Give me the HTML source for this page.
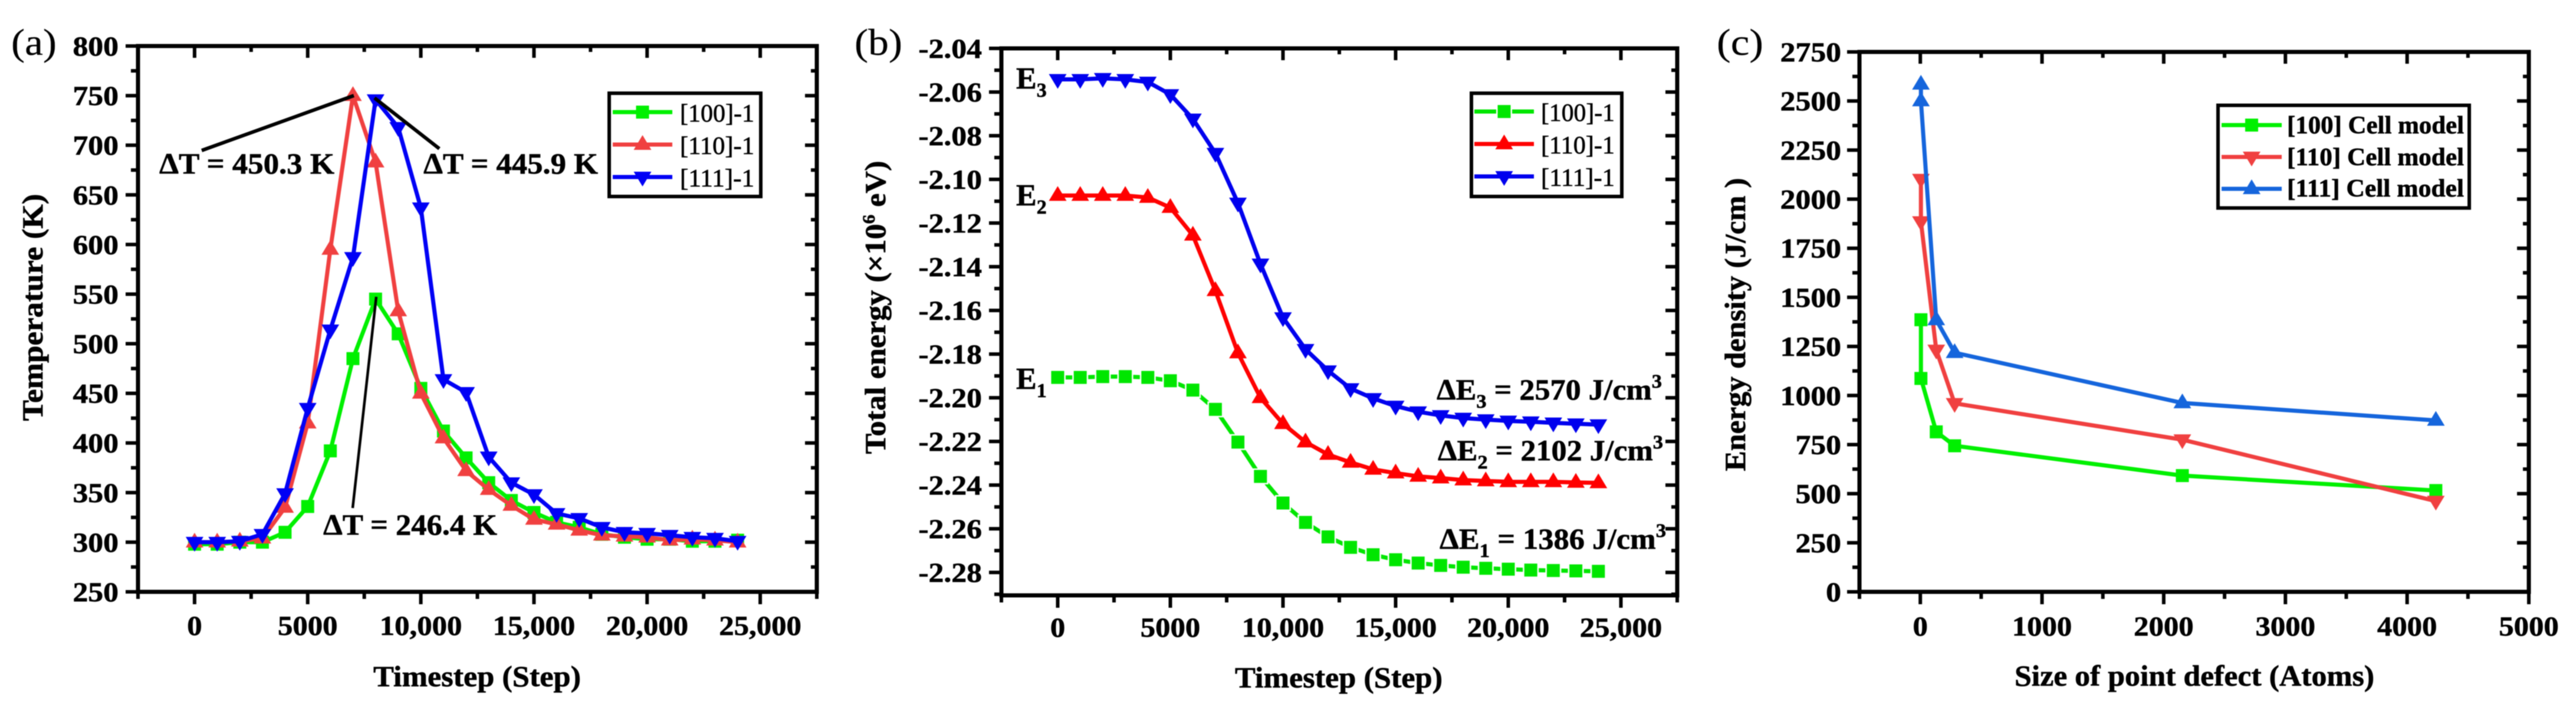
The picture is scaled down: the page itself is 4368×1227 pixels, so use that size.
<!DOCTYPE html>
<html lang="en">
<head>
<meta charset="utf-8">
<title>Temperature, total energy and energy density charts</title>
<style>
html,body{margin:0;padding:0;background:#fff;width:4368px;height:1227px;overflow:hidden}
svg{display:block;font-family:"Liberation Serif",serif;font-weight:700;fill:#000;filter:blur(.7px)}
text{stroke:#000;stroke-width:.7px}
.t{font-size:50px}
.l{font-size:42px;font-weight:400}
.p{font-size:64px;font-weight:400;stroke-width:.3px}
</style>
</head>
<body>
<svg id="fig" xmlns="http://www.w3.org/2000/svg" width="4368" height="1227" viewBox="0 0 4368 1227">
  <rect x="0" y="0" width="4368" height="1227" fill="#fff"/>

  <g id="panel-a">
    <text class="p" x="19" y="93" textLength="77" lengthAdjust="spacingAndGlyphs">(a)</text>
    <text class="t" x="809" y="1163" text-anchor="middle" textLength="352" lengthAdjust="spacingAndGlyphs">Timestep (Step)</text>
    <text class="t" transform="translate(72,521) rotate(-90)" text-anchor="middle" textLength="385" lengthAdjust="spacingAndGlyphs">Temperature (K)</text>
  </g>

  <g id="panel-b">
    <text class="p" x="1449" y="93" textLength="81" lengthAdjust="spacingAndGlyphs">(b)</text>
    <text class="t" x="2270" y="1165" text-anchor="middle" textLength="352" lengthAdjust="spacingAndGlyphs">Timestep (Step)</text>
    <text class="t" transform="translate(1501,521) rotate(-90)" text-anchor="middle" textLength="497" lengthAdjust="spacingAndGlyphs">Total energy (×10<tspan font-size="30" dy="-18">6</tspan><tspan dy="18"> eV)</tspan></text>
  </g>

  <g id="panel-c">
    <text class="p" x="2911" y="93" textLength="79" lengthAdjust="spacingAndGlyphs">(c)</text>
    <text class="t" x="3721" y="1162" text-anchor="middle" textLength="610" lengthAdjust="spacingAndGlyphs">Size of point defect (Atoms)</text>
    <text class="t" transform="translate(2959,550) rotate(-90)" text-anchor="middle" textLength="497" lengthAdjust="spacingAndGlyphs">Energy density (J/cm )</text>
  </g>

  <g id="overlay">
    <line x1="342" y1="255" x2="600" y2="162" stroke="#000" stroke-width="6"/>
    <line x1="635" y1="166" x2="745" y2="252" stroke="#000" stroke-width="6"/>
    <line x1="638" y1="503" x2="598" y2="861" stroke="#000" stroke-width="4.5"/>
    <text class="t" x="270" y="294" textLength="297" lengthAdjust="spacingAndGlyphs">ΔT = 450.3 K</text>
    <text class="t" x="718" y="294" textLength="296" lengthAdjust="spacingAndGlyphs">ΔT = 445.9 K</text>
    <text class="t" x="548" y="906" textLength="295" lengthAdjust="spacingAndGlyphs">ΔT = 246.4 K</text>

    <text class="t" x="1723" y="150" font-size="52" style="font-size:52px">E<tspan font-size="34" style="font-size:34px" dy="14">3</tspan></text>
    <text class="t" x="1723" y="348" style="font-size:52px">E<tspan style="font-size:34px" dy="14">2</tspan></text>
    <text class="t" x="1723" y="659" style="font-size:52px">E<tspan style="font-size:34px" dy="14">1</tspan></text>
    <text class="t" x="2436" y="677" textLength="382" lengthAdjust="spacingAndGlyphs">ΔE<tspan font-size="33" dy="14">3</tspan><tspan dy="-14"> = 2570 J/cm</tspan><tspan font-size="33" dy="-20">3</tspan></text>
    <text class="t" x="2438" y="780" textLength="382" lengthAdjust="spacingAndGlyphs">ΔE<tspan font-size="33" dy="14">2</tspan><tspan dy="-14"> = 2102 J/cm</tspan><tspan font-size="33" dy="-20">3</tspan></text>
    <text class="t" x="2441" y="930" textLength="384" lengthAdjust="spacingAndGlyphs">ΔE<tspan font-size="33" dy="14">1</tspan><tspan dy="-14"> = 1386 J/cm</tspan><tspan font-size="33" dy="-20">3</tspan></text>

    <rect x="1033" y="158" width="257" height="175" fill="#fff" stroke="#000" stroke-width="6"/>
    <text class="l" x="1153" y="206" textLength="126" lengthAdjust="spacingAndGlyphs">[100]-1</text>
    <text class="l" x="1153" y="261" textLength="126" lengthAdjust="spacingAndGlyphs">[110]-1</text>
    <text class="l" x="1153" y="316" textLength="126" lengthAdjust="spacingAndGlyphs">[111]-1</text>

    <rect x="2495" y="158" width="255" height="175" fill="#fff" stroke="#000" stroke-width="6"/>
    <text class="l" x="2613" y="205" textLength="125" lengthAdjust="spacingAndGlyphs">[100]-1</text>
    <text class="l" x="2613" y="260" textLength="125" lengthAdjust="spacingAndGlyphs">[110]-1</text>
    <text class="l" x="2613" y="315" textLength="125" lengthAdjust="spacingAndGlyphs">[111]-1</text>

    <rect x="3761" y="178.5" width="426" height="174" fill="#fff" stroke="#000" stroke-width="6"/>
    <text x="3878" y="226" font-size="42" textLength="300" lengthAdjust="spacingAndGlyphs">[100] Cell model</text>
    <text x="3878" y="280" font-size="42" textLength="300" lengthAdjust="spacingAndGlyphs">[110] Cell model</text>
    <text x="3878" y="333" font-size="42" textLength="300" lengthAdjust="spacingAndGlyphs">[111] Cell model</text>
  </g>
</svg>

<script>
// ---- Panel (a) data ----
const timesteps = [0,1000,2000,3000,4000,5000,6000,7000,8000,9000,10000,11000,12000,13000,14000,15000,16000,17000,18000,19000,20000,21000,22000,23000,24000];
const temperature100 = [298,298,300,300,310,336,392,485,545,510,455,412,385,360,342,330,320,315,308,305,303,303,301,301,302];
const temperature110 = [300,300,301,304,335,420,595,750,683,533,450,405,372,353,337,323,318,312,307,306,305,302,303,302,300];
const temperature111 = [300,300,301,308,349,435,514,587,746,718,637,464,451,386,360,348,329,324,315,310,309,307,305,304,301];
const temperatureTicks = [250,300,350,400,450,500,550,600,650,700,750,800];
const temperatureTickLabels = ['250','300','350','400','450','500','550','600','650','700','750','800'];
const timeTicks = [0,5000,10000,15000,20000,25000];
const timeTickLabels = ['0','5000','10,000','15,000','20,000','25,000'];

// ---- Panel (b) data ----
const energy100 = [-2.1907,-2.1907,-2.1903,-2.1903,-2.1907,-2.1922,-2.1965,-2.2053,-2.2203,-2.236,-2.2482,-2.2571,-2.2637,-2.2685,-2.2719,-2.2742,-2.2757,-2.2768,-2.2776,-2.2781,-2.2785,-2.2789,-2.2791,-2.2793,-2.2795];
const energy110 = [-2.1074,-2.1074,-2.1074,-2.1074,-2.1083,-2.1129,-2.1256,-2.151,-2.1795,-2.2,-2.2119,-2.2203,-2.226,-2.2296,-2.2328,-2.2345,-2.236,-2.2368,-2.2377,-2.2381,-2.2385,-2.2385,-2.2385,-2.2388,-2.239];
const energy111 = [-2.0542,-2.0542,-2.0537,-2.0542,-2.0554,-2.0611,-2.0723,-2.088,-2.1108,-2.1387,-2.1633,-2.1778,-2.1876,-2.1958,-2.2003,-2.2038,-2.2064,-2.2081,-2.2093,-2.21,-2.2106,-2.211,-2.2115,-2.2119,-2.2123];
const energyTicks = [-2.28,-2.26,-2.24,-2.22,-2.20,-2.18,-2.16,-2.14,-2.12,-2.10,-2.08,-2.06,-2.04];
const energyTickLabels = ['-2.28','-2.26','-2.24','-2.22','-2.20','-2.18','-2.16','-2.14','-2.12','-2.10','-2.08','-2.06','-2.04'];

// ---- Panel (c) data ----
const defectSizes = [5,5,131,282,2153,4236];
const density100 = [1386,1087,815,744,592,516];
const density110 = [2102,1886,1232,960,775,462];
const density111 = [2585,2500,1385,1218,962,873];
const densityTicks = [0,250,500,750,1000,1250,1500,1750,2000,2250,2500,2750];
const densityTickLabels = ['0','250','500','750','1000','1250','1500','1750','2000','2250','2500','2750'];
const defectTicks = [0,1000,2000,3000,4000,5000];
const defectTickLabels = ['0','1000','2000','3000','4000','5000'];

const NS = 'http://www.w3.org/2000/svg';
function make(parent, tag, attrs) {
  const node = document.createElementNS(NS, tag);
  for (const k in attrs) node.setAttribute(k, attrs[k]);
  parent.appendChild(node);
  return node;
}
function scale(d0, d1, r0, r1) {
  return function (v) { return r0 + (v - d0) * (r1 - r0) / (d1 - d0); };
}
function markerPoints(shape, x, y) {
  if (shape === 'square') return [[x-11,y-11],[x+11,y-11],[x+11,y+11],[x-11,y+11]];
  if (shape === 'up') return [[x,y-16],[x+15,y+9],[x-15,y+9]];
  return [[x,y+16],[x+15,y-9],[x-15,y-9]];
}
function drawMarker(parent, shape, x, y, color, halo, name) {
  const attrs = {points: markerPoints(shape, x, y).map(function (p) { return p.join(','); }).join(' '), fill: color};
  if (halo) { attrs.stroke = '#fff'; attrs['stroke-width'] = 5; attrs['paint-order'] = 'stroke'; }
  const m = make(parent, 'polygon', attrs);
  
  
}
function drawTick(parent, x1, y1, x2, y2, width, name) {
  const t = make(parent, 'line', {x1: x1, y1: y1, x2: x2, y2: y2, stroke: '#000', 'stroke-width': width});
  
  
}
function drawLabel(parent, x, y, str, size, sx, anchor, name) {
  const t = make(parent, 'text', {transform: 'translate(' + x + ',' + y + ') scale(' + sx + ',1)', 'text-anchor': anchor, 'font-size': size});
  t.textContent = str;
  
  
}
function minorValues(ticks, lo, hi) {
  const step = (ticks[1] - ticks[0]) / 2;
  const out = [];
  for (let v = ticks[0] - step; v >= lo - step * 0.02; v -= step * 2) out.push(v);
  for (let i = 0; i < ticks.length - 1; i++) out.push(ticks[i] + step);
  for (let v = ticks[ticks.length - 1] + step; v <= hi + step * 0.02; v += step * 2) out.push(v);
  return out;
}
function drawPanel(cfg) {
  const root = document.getElementById(cfg.id);
  const x = scale(cfg.xMin, cfg.xMax, cfg.left, cfg.right);
  const y = scale(cfg.yMin, cfg.yMax, cfg.bottom, cfg.top);
  const axes = make(root, 'g', {});
  
  

  cfg.xTicks.forEach(function (v, i) {
    const px = x(v);
    drawTick(axes, px, cfg.bottom, px, cfg.bottom + 21, 6, cfg.key + '-x-tick');
    drawTick(axes, px, cfg.top, px, cfg.top + 20, 6, cfg.key + '-x-tick-top');
    drawLabel(axes, px, cfg.xLabelY, cfg.xLabels[i], 47, 1.08, 'middle', cfg.key + '-x-tick-label');
  });
  minorValues(cfg.xTicks, cfg.xMin, cfg.xMax).forEach(function (v) {
    const px = x(v);
    drawTick(axes, px, cfg.bottom, px, cfg.bottom + 12, 6, cfg.key + '-x-minor-tick');
    drawTick(axes, px, cfg.top, px, cfg.top + 10, 6, cfg.key + '-x-minor-tick-top');
  });
  cfg.yTicks.forEach(function (v, i) {
    const py = y(v);
    drawTick(axes, cfg.left - 21, py, cfg.left, py, 6, cfg.key + '-y-tick');
    drawTick(axes, cfg.right - 20, py, cfg.right, py, 6, cfg.key + '-y-tick-right');
    drawLabel(axes, cfg.yLabelX, py + 16, cfg.yLabels[i], 47, 1.1, 'end', cfg.key + '-y-tick-label');
  });
  minorValues(cfg.yTicks, cfg.yMin, cfg.yMax).forEach(function (v) {
    const py = y(v);
    drawTick(axes, cfg.left - 12, py, cfg.left, py, 6, cfg.key + '-y-minor-tick');
    drawTick(axes, cfg.right - 10, py, cfg.right, py, 6, cfg.key + '-y-minor-tick-right');
  });
  const frame = make(axes, 'rect', {x: cfg.left, y: cfg.top, width: cfg.right - cfg.left, height: cfg.bottom - cfg.top, fill: 'none', stroke: '#000', 'stroke-width': 7});
  
  

  cfg.series.forEach(function (s) {
    const g = make(root, 'g', {});
    
    
    const pts = s.values.map(function (v, i) { return [x(cfg.xValues[i]), y(v)]; });
    const line = make(g, 'polyline', {points: pts.map(function (p) { return p.join(','); }).join(' '), fill: 'none', stroke: s.color, 'stroke-width': cfg.lineWidth, 'stroke-linejoin': 'round'});
    
    
    pts.forEach(function (p) {
      drawMarker(g, s.shape, p[0], p[1], s.color, s.halo, cfg.key + '-point-' + s.name);
    });
  });

  // Legend samples sit above the data.
  const overlay = document.getElementById('overlay');
  cfg.series.forEach(function (s, i) {
    const ly = cfg.legendY[i];
    const ln = make(overlay, 'line', {x1: cfg.legendX0, y1: ly, x2: cfg.legendX1, y2: ly, stroke: s.color, 'stroke-width': cfg.lineWidth});
    
    
    drawMarker(overlay, s.shape, (cfg.legendX0 + cfg.legendX1) / 2, ly, s.color, s.halo, cfg.key + '-legend-marker-' + s.name);
  });
}

drawPanel({
  id: 'panel-a', key: 'panel-a', left: 234, right: 1385, top: 78, bottom: 1003,
  xMin: -2500, xMax: 27500, yMin: 250, yMax: 800,
  xTicks: timeTicks, xLabels: timeTickLabels, yTicks: temperatureTicks, yLabels: temperatureTickLabels,
  xLabelY: 1076, yLabelX: 201, xValues: timesteps, lineWidth: 7,
  legendY: [190, 245, 300], legendX0: 1039, legendX1: 1140,
  series: [
    {name: '100', values: temperature100, color: '#00f000', shape: 'square'},
    {name: '110', values: temperature110, color: '#f04040', shape: 'up'},
    {name: '111', values: temperature111, color: '#0000f5', shape: 'down'}
  ]
});
drawPanel({
  id: 'panel-b', key: 'panel-b', left: 1698, right: 2844, top: 82, bottom: 1009,
  xMin: -2500, xMax: 27500, yMin: -2.2905, yMax: -2.04,
  xTicks: timeTicks, xLabels: timeTickLabels, yTicks: energyTicks, yLabels: energyTickLabels,
  xLabelY: 1079, yLabelX: 1665, xValues: timesteps, lineWidth: 7,
  legendY: [189, 244, 299], legendX0: 2500, legendX1: 2601,
  series: [
    {name: '100', values: energy100, color: '#00e600', shape: 'square', halo: true},
    {name: '110', values: energy110, color: '#ff0000', shape: 'up'},
    {name: '111', values: energy111, color: '#0000ee', shape: 'down'}
  ]
});
drawPanel({
  id: 'panel-c', key: 'panel-c', left: 3153, right: 4288, top: 88, bottom: 1003,
  xMin: -500, xMax: 5000, yMin: 0, yMax: 2750,
  xTicks: defectTicks, xLabels: defectTickLabels, yTicks: densityTicks, yLabels: densityTickLabels,
  xLabelY: 1077, yLabelX: 3122, xValues: defectSizes, lineWidth: 7,
  legendY: [212, 266, 320], legendX0: 3767, legendX1: 3869,
  series: [
    {name: '100', values: density100, color: '#00f000', shape: 'square'},
    {name: '110', values: density110, color: '#f04040', shape: 'down'},
    {name: '111', values: density111, color: '#1565dc', shape: 'up'}
  ]
});
</script>
</body>
</html>
